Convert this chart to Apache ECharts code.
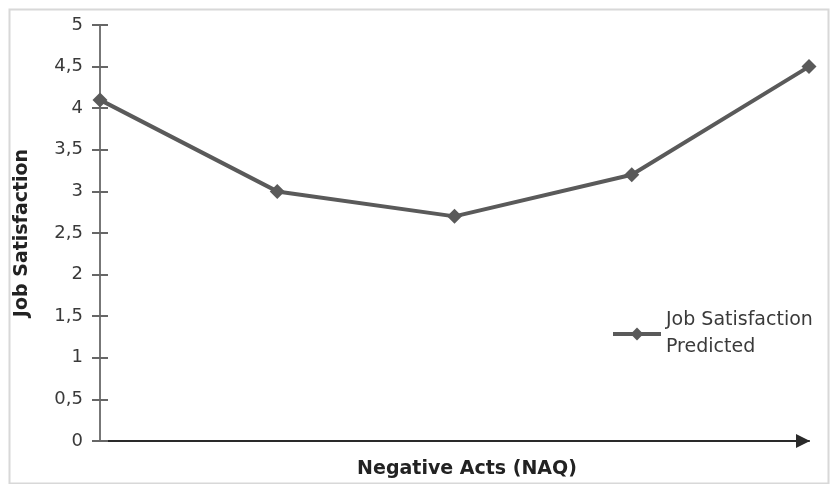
<!DOCTYPE html>
<html>
<head>
<meta charset="utf-8">
<script src="https://cdn.jsdelivr.net/npm/echarts@6/dist/echarts.min.js"></script>
<style>html,body{margin:0;padding:0;background:#fff;}#c{width:833px;height:484px;}</style>
</head>
<body>
<div id="c"></div>
<script>
const categories = ['1', '2', '3', '4', '5'];
const jobSatisfactionPredicted = [4.1, 3.0, 2.7, 3.2, 4.5];
const seriesName = 'Job Satisfaction\nPredicted';
const xTitle = 'Negative Acts (NAQ)';
const yTitle = 'Job Satisfaction';

const chart = echarts.init(document.getElementById('c'));
const font = '"DejaVu Sans", "Liberation Sans", Arial, sans-serif';
const fmt = v => String(v).replace('.', ',');
chart.setOption({
  animation: false,
  backgroundColor: '#fff',
  graphic: [{
    type: 'rect', left: 7, top: 7, shape: { width: 819, height: 474 },
    style: { fill: 'none', stroke: '#d8d8d8', lineWidth: 2 }, silent: true, z: -1
  }],
  grid: { left: 100, right: 24, top: 25, bottom: 43, containLabel: false, outerBoundsMode: 'none' },
  legend: {
    data: [seriesName],
    left: 606, top: 302,
    itemWidth: 48, itemHeight: 16, itemGap: 10,
    lineStyle: { width: 4, color: '#5a5a5a' },
    textStyle: { fontFamily: font, fontSize: 19, color: '#3a3a3a', lineHeight: 27 }
  },
  xAxis: {
    type: 'category', data: categories, boundaryGap: false,
    name: xTitle, nameLocation: 'middle', nameGap: 19,
    nameTextStyle: { fontFamily: font, fontSize: 19, fontWeight: 'bold', color: '#222', padding: [0, 0, 0, 25] },
    axisLine: { lineStyle: { color: '#2a2a2a', width: 2 }, symbol: ['none', 'triangle'], symbolSize: [14, 14], symbolOffset: [0, -6] },
    axisTick: { show: false }, axisLabel: { show: false }, splitLine: { show: false }
  },
  yAxis: [{
    type: 'value', min: 0, max: 5, interval: 0.5,
    name: yTitle, nameLocation: 'middle', nameGap: 68, nameRotate: 90,
    nameTextStyle: { fontFamily: font, fontSize: 19, fontWeight: 'bold', color: '#222' },
    axisLine: { show: true, lineStyle: { color: '#777', width: 2 } },
    axisTick: { show: true, length: 8, lineStyle: { color: '#666', width: 2 } },
    axisLabel: { margin: 17, fontFamily: font, fontSize: 18, color: '#3a3a3a', formatter: fmt },
    splitLine: { show: false }
  }, {
    type: 'value', min: 0, max: 5, interval: 0.5, position: 'left',
    axisLine: { show: false },
    axisTick: { show: true, inside: true, length: 8, lineStyle: { color: '#666', width: 2 } },
    axisLabel: { show: false }, splitLine: { show: false }
  }],
  series: [{
    name: seriesName, type: 'line', data: jobSatisfactionPredicted,
    symbol: 'diamond', symbolSize: 15,
    itemStyle: { color: '#5a5a5a' },
    lineStyle: { color: '#5a5a5a', width: 4 }
  }]
});
</script>
</body>
</html>
